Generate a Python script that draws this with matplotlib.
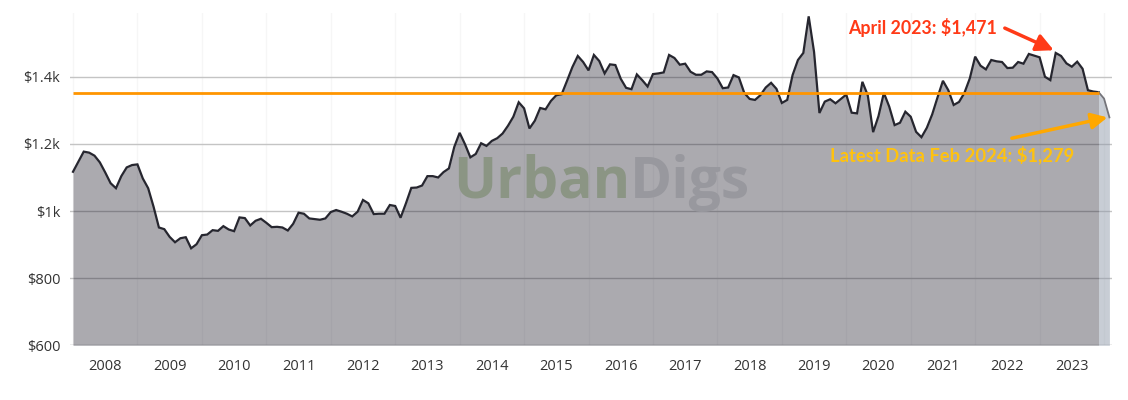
import numpy as np
import matplotlib
matplotlib.use("Agg")
import matplotlib.pyplot as plt

# monthly median rent, Jan 2008 .. Feb 2024
start_year = 2008
rent = [1117, 1147, 1177, 1174, 1165, 1145, 1115, 1083, 1068, 1104, 1130, 1137,
        1139, 1097, 1068, 1013, 951, 946, 923, 907, 919, 922, 889, 901,
        928, 930, 943, 941, 955, 945, 940, 981, 979, 957, 971, 977,
        965, 952, 953, 951, 942, 962, 995, 992, 978, 976, 974, 978,
        997, 1003, 998, 992, 984, 998, 1033, 1023, 991, 992, 992, 1018,
        1015, 980, 1023, 1069, 1070, 1076, 1104, 1104, 1100, 1116, 1127, 1191,
        1233, 1199, 1160, 1170, 1202, 1194, 1209, 1217, 1231, 1254, 1281, 1324,
        1306, 1246, 1269, 1307, 1303, 1328, 1345, 1348, 1388, 1429, 1462, 1444,
        1419, 1465, 1447, 1410, 1437, 1435, 1394, 1367, 1363, 1407, 1390, 1371,
        1408, 1410, 1413, 1465, 1456, 1436, 1439, 1415, 1406, 1406, 1416, 1414,
        1395, 1366, 1368, 1405, 1398, 1352, 1334, 1331, 1345, 1368, 1382, 1364,
        1322, 1331, 1405, 1450, 1471, 1580, 1474, 1292, 1326, 1333, 1321, 1334,
        1347, 1293, 1291, 1385, 1345, 1235, 1283, 1352, 1311, 1256, 1263, 1296,
        1281, 1236, 1220, 1248, 1288, 1339, 1388, 1360, 1316, 1325, 1352, 1395,
        1460, 1433, 1422, 1450, 1446, 1444, 1426, 1427, 1444, 1439, 1468, 1463,
        1458, 1400, 1390, 1471, 1462, 1440, 1430, 1445, 1424, 1360, 1356, 1354,
        1335, 1279]

zone_start = 191          # Dec 2023: incomplete data zone begins
ref_level = 1352
april_idx = 183           # April 2023
years = list(range(2008, 2024))
ytick_vals = [600, 800, 1000, 1200, 1400]
ytick_labels = ["$600", "$800", "$1k", "$1.2k", "$1.4k"]

x = start_year + np.arange(len(rent)) / 12.0
y = np.array(rent)

fig = plt.figure(figsize=(11.28, 4), dpi=100, facecolor="white")
ax = fig.add_axes([70 / 1128, 1 - 345.3 / 400, 1042 / 1128, 332.3 / 400])

for yr in range(2008, 2025):
    ax.axvline(yr, color="#f6f6f6", lw=1, zorder=0)
for v in ytick_vals[1:]:
    ax.axhline(v, color="#c4c4c4", lw=1, zorder=1)
ax.axhline(600, color="#a0a0a0", lw=1, zorder=1)

ax.fill_between(x[:zone_start + 1], 600, y[:zone_start + 1],
                color=(0.04, 0.03, 0.09), alpha=0.34, lw=0, zorder=2)
ax.fill_between(x[zone_start:], 600, y[zone_start:],
                color="#8d98a8", alpha=0.48, lw=0, zorder=2)

# watermark
ax.text(2016.64, 1039, "Urban", ha="right", va="baseline", fontsize=41,
        fontweight="bold", family="Open Sans", color="#8b9584", zorder=3)
ax.text(2016.64, 1039, "Digs", ha="left", va="baseline", fontsize=41,
        fontweight="bold", family="Open Sans", color="#98989e", zorder=3)

ax.plot(x[:zone_start + 1], y[:zone_start + 1], color="#26262f", lw=1.6,
        zorder=4, solid_joinstyle="miter")
ax.plot(x[zone_start:], y[zone_start:], color="#74747a", lw=1.3, zorder=4)
ax.hlines(ref_level, x[0], x[zone_start], color="#ff9500", lw=2, zorder=5)

# annotations
ax.text(2021.19, 1548, "April 2023: $1,471", ha="center", va="center",
        fontsize=12.8, fontweight="bold", family="Lato", color="#ff3a17", zorder=6)
ax.annotate("", xy=(x[april_idx] - 0.03, y[april_idx] + 8), xytext=(2022.46, 1545),
            arrowprops=dict(arrowstyle="-|>", color="#ff3a17", lw=2.5,
                            mutation_scale=26, shrinkA=0, shrinkB=0), zorder=6)
ax.text(2021.64, 1167, "Latest Data Feb 2024: $1,279", ha="center", va="center",
        fontsize=13.2, fontweight="bold", family="Lato", color="#ffc20e", zorder=6)
ax.annotate("", xy=(x[-1] - 0.03, y[-1]), xytext=(2022.57, 1217),
            arrowprops=dict(arrowstyle="-|>", color="#ffa800", lw=2.5,
                            mutation_scale=24, shrinkA=0, shrinkB=0), zorder=6)

ax.set_xlim(2008 - 3 / 64.44, 2008 + (1112 - 73) / 64.44)
ax.set_ylim(600, 1590)
ax.set_yticks(ytick_vals, ytick_labels)
ax.set_xticks([yr + 0.5 for yr in years], [str(yr) for yr in years])
ax.tick_params(length=0, labelsize=10.5, labelcolor="#333333")
ax.tick_params(axis="y", pad=7)
ax.tick_params(axis="x", pad=10)
for lab in ax.get_xticklabels() + ax.get_yticklabels():
    lab.set_family("Open Sans")
for s in ax.spines.values():
    s.set_visible(False)

fig.savefig("out.png", dpi=100, facecolor="white")
